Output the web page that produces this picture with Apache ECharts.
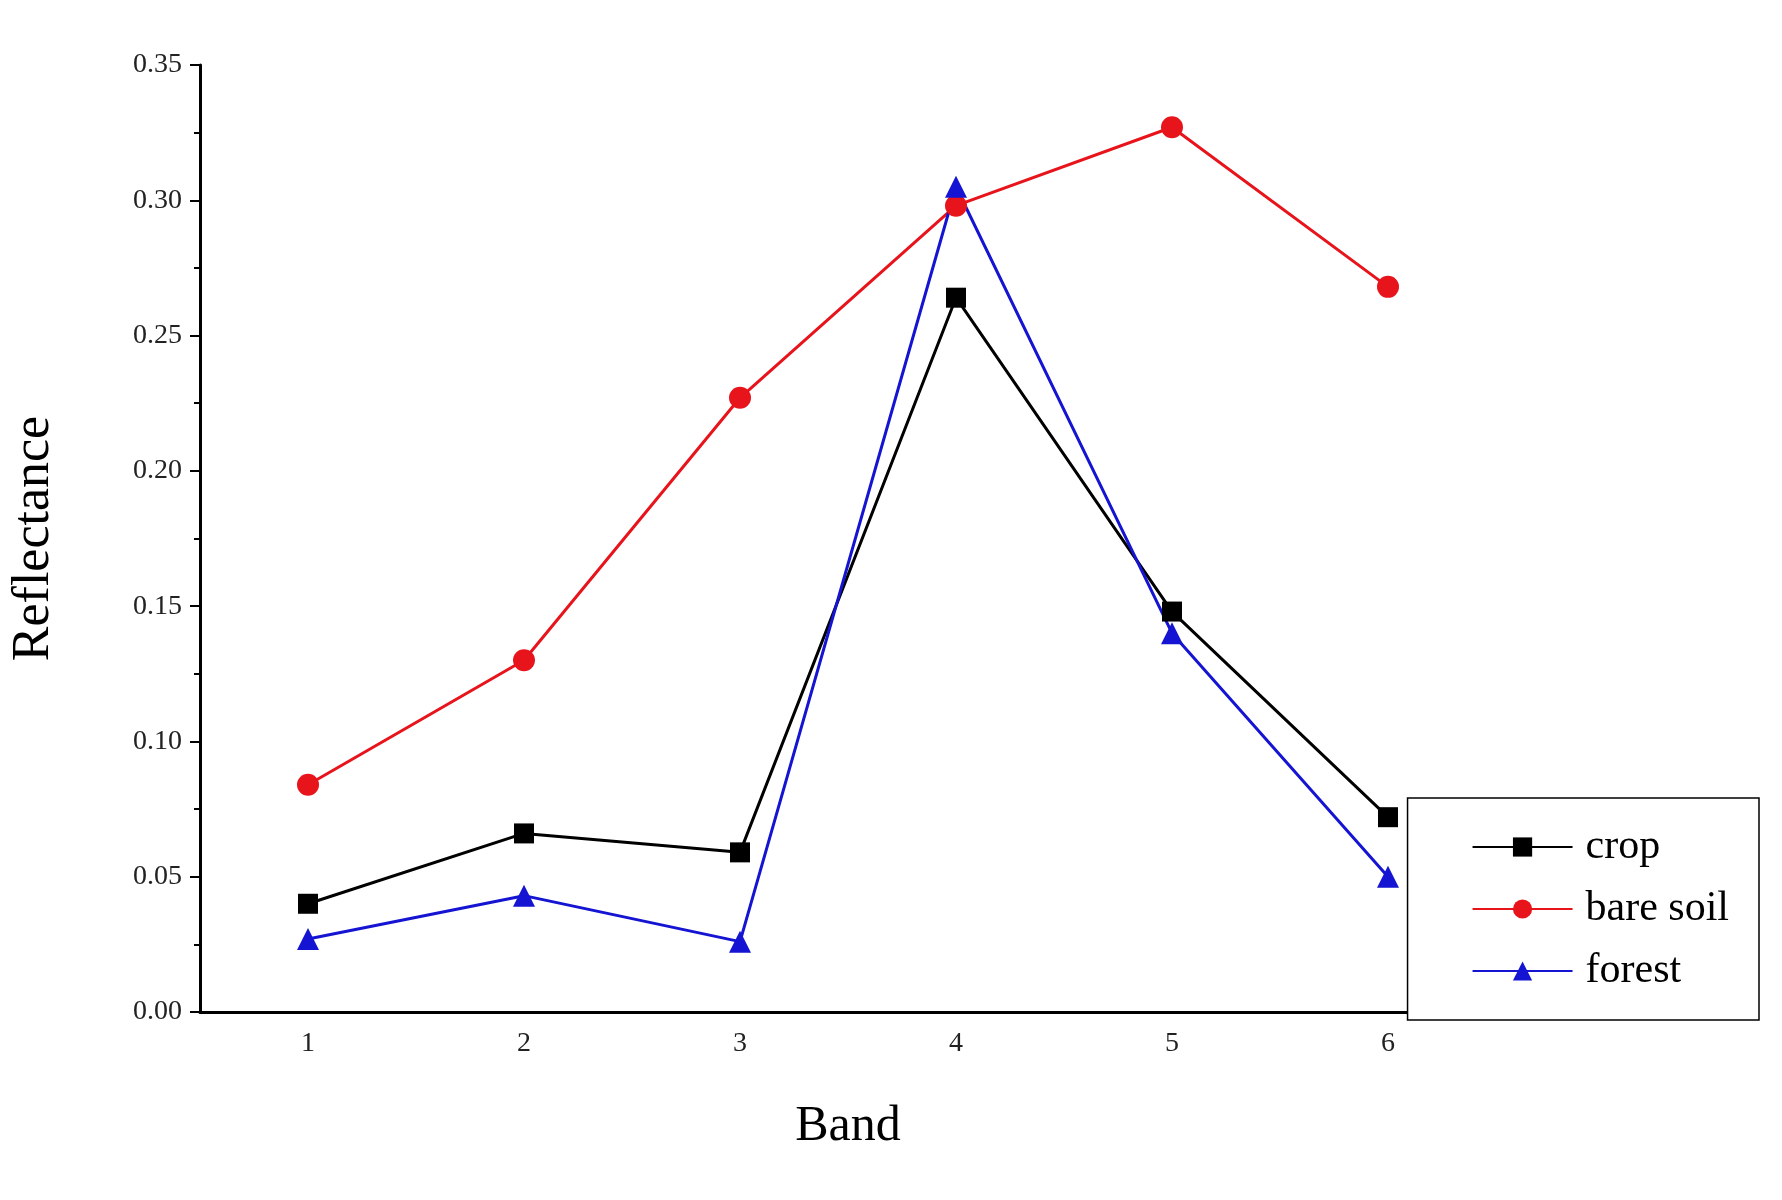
<!DOCTYPE html>
<html>
<head>
<meta charset="UTF-8">
<script src="https://cdn.jsdelivr.net/npm/echarts@6/dist/echarts.min.js"></script>
</head>
<body style="margin:0;background:#fff;">
<div id="chart" style="width:1782px;height:1200px;"></div>
<script>
var bands = ['1', '2', '3', '4', '5', '6'];
var crop = [0.040, 0.066, 0.059, 0.264, 0.148, 0.072];
var bareSoil = [0.084, 0.130, 0.227, 0.298, 0.327, 0.268];
var forest = [0.027, 0.043, 0.026, 0.305, 0.140, 0.050];

var font = 'Liberation Serif';
var chart = echarts.init(document.getElementById('chart'));
function line(name, data, color, symbol, size) {
  return {
    name: name, type: 'line', data: data,
    symbol: symbol, symbolSize: size,
    lineStyle: { color: color, width: 3 },
    itemStyle: { color: color },
    z: 3
  };
}
chart.setOption({
  animation: false,
  grid: { left: 200, right: 286, top: 65, bottom: 188 },
  legend: {
    right: 23, top: 798, orient: 'vertical', itemGap: 20,
    itemWidth: 100, itemHeight: 24,
    padding: [28, 30, 28, 64],
    borderColor: '#000', borderWidth: 1.5, backgroundColor: '#fff',
    textStyle: { fontFamily: font, fontSize: 42, color: '#000', padding: [0, 0, 0, 8] },
    data: ['crop', 'bare soil', 'forest']
  },
  xAxis: {
    type: 'category', data: bands, boundaryGap: true,
    name: 'Band', nameLocation: 'middle', nameGap: 90,
    nameTextStyle: { fontFamily: font, fontSize: 50, color: '#000' },
    axisLine: { lineStyle: { color: '#000', width: 3 } },
    axisTick: { alignWithLabel: true, length: 10, lineStyle: { width: 2 } },
    axisLabel: { fontFamily: font, fontSize: 28, color: '#222', margin: 18 }
  },
  yAxis: {
    type: 'value', min: 0, max: 0.35, interval: 0.05,
    name: 'Reflectance', nameLocation: 'middle', nameGap: 140,
    nameTextStyle: { fontFamily: font, fontSize: 52, color: '#000' },
    axisLine: { show: true, lineStyle: { color: '#000', width: 3 } },
    axisTick: { show: true, length: 10, lineStyle: { width: 2 } },
    minorTick: { show: true, splitNumber: 2, length: 6, lineStyle: { color: '#000', width: 2 } },
    splitLine: { show: false },
    axisLabel: { fontFamily: font, fontSize: 28, color: '#222', margin: 18,
      formatter: function (v) { return v.toFixed(2); } }
  },
  series: [
    line('crop', crop, '#000000', 'rect', 20),
    line('bare soil', bareSoil, '#e8141b', 'circle', 22),
    line('forest', forest, '#1414d2', 'triangle', 22)
  ]
});
</script>
</body>
</html>
